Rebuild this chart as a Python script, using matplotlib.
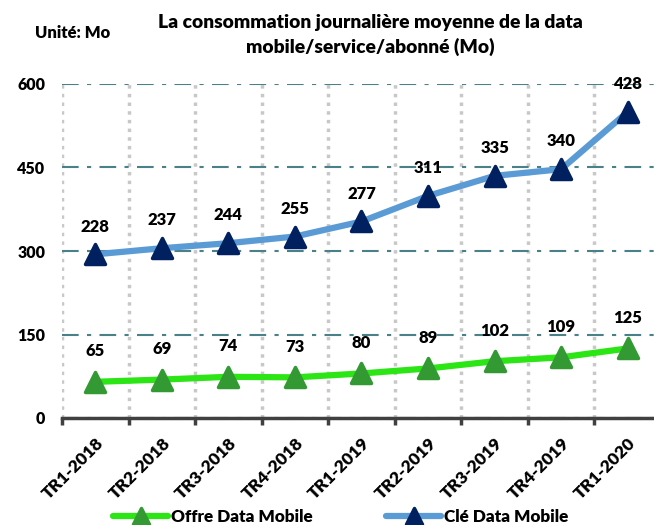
import matplotlib
matplotlib.use("Agg")
import matplotlib.pyplot as plt
from matplotlib.markers import MarkerStyle
from matplotlib.ticker import FixedLocator, NullFormatter

plt.rcParams['font.family'] = ['Lato', 'DejaVu Sans']
plt.rcParams['font.weight'] = 'heavy'

categories = ["TR1-2018", "TR2-2018", "TR3-2018", "TR4-2018", "TR1-2019",
              "TR2-2019", "TR3-2019", "TR4-2019", "TR1-2020"]
offre_values = [65, 69, 74, 73, 80, 89, 102, 109, 125]
offre_labels = ["65", "69", "74", "73", "80", "89", "102", "109", "125"]
cle_values = [294, 305, 314, 326, 353, 399, 435, 447, 550]
cle_labels = ["228", "237", "244", "255", "277", "311", "335", "340", "428"]
yticks = [0, 150, 300, 450, 600]

title = "La consommation journalière moyenne de la data\nmobile/service/abonné (Mo)"
unit = "Unité: Mo"

W, H = 654, 525
fig = plt.figure(figsize=(W / 100, H / 100), dpi=100)
left, right, bottom, top = 62, 661, 418, 84
ax = fig.add_axes([left / W, 1 - bottom / H, (right - left) / W, (bottom - top) / H])

x = list(range(len(categories)))
tri = MarkerStyle('^', joinstyle='round')

ax.plot(x, cle_values, color='#5B9BD5', lw=4.5, solid_capstyle='round', zorder=3,
        marker=tri, markersize=14, markerfacecolor='#002060', markeredgecolor='#002060',
        markeredgewidth=2.5, label="Clé Data Mobile")
ax.plot(x, offre_values, color='#2BE515', lw=4.5, solid_capstyle='round', zorder=3,
        marker=tri, markersize=14, markerfacecolor='#339933', markeredgecolor='#339933',
        markeredgewidth=2.5, label="Offre Data Mobile")

for xi, v, t in zip(x, cle_values, cle_labels):
    ax.annotate(t, (xi, v), xytext=(0, 20), textcoords='offset points', ha='center',
                va='center', fontsize=12, fontweight='heavy', color='black', annotation_clip=False)
for xi, v, t in zip(x, offre_values, offre_labels):
    ax.annotate(t, (xi, v), xytext=(0, 22), textcoords='offset points', ha='center',
                va='center', fontsize=12, fontweight='heavy', color='black', annotation_clip=False)

ax.set_xlim(-0.5, len(categories) - 0.5)
ax.set_ylim(0, 600)
ax.set_yticks(yticks)
ax.set_yticklabels([str(v) for v in yticks], fontsize=11.5, fontweight='heavy')
ax.tick_params(axis='y', length=0, pad=12)

ax.set_xticks(x)
ax.set_xticklabels(categories, rotation=45, ha='right', rotation_mode='anchor',
                   fontsize=12.5, fontweight='heavy')
ax.tick_params(axis='x', which='major', length=0, pad=12)
ax.xaxis.set_minor_locator(FixedLocator([i - 0.5 for i in range(len(categories) + 1)]))
ax.xaxis.set_minor_formatter(NullFormatter())
ax.tick_params(axis='x', which='minor', length=5, width=2.5, color='#404040', direction='out')

ax.grid(axis='y', which='major', color='#4A8088', lw=1.5, linestyle=(0, (8, 4, 2, 4)))
ax.grid(axis='x', which='minor', color='#C8C8C8', lw=2.5, linestyle=(0, (1, 1.5)))
ax.grid(axis='x', which='major', visible=False)
ax.set_axisbelow(True)

for s in ['top', 'right', 'left']:
    ax.spines[s].set_visible(False)
ax.spines['bottom'].set_color('#404040')
ax.spines['bottom'].set_linewidth(2.5)
ax.spines['bottom'].set_zorder(4)

handles, labels = ax.get_legend_handles_labels()
leg = fig.legend(handles[::-1], labels[::-1], loc='center', bbox_to_anchor=(341 / W, 1 - 517 / H),
                 ncol=2, frameon=False, handlelength=3.2, handletextpad=0.2,
                 columnspacing=4.3, markerscale=0.85, prop={'weight': 'heavy', 'size': 12.3})

fig.text(370 / W, 1 - 35 / H, title, ha='center', va='center', fontsize=13.9,
         fontweight='heavy', linespacing=1.45)
fig.text(35 / W, 1 - 33 / H, unit, ha='left', va='center', fontsize=12, fontweight='heavy')

fig.savefig("out.png", dpi=100)
